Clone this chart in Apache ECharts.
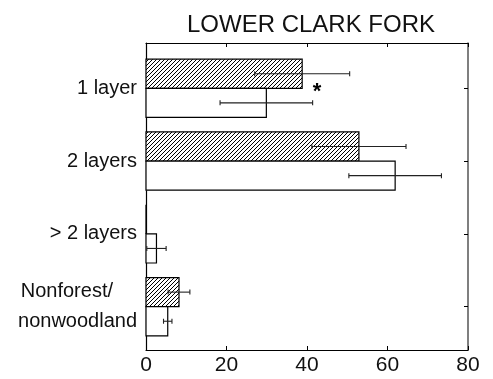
<!DOCTYPE html>
<html>
<head>
<meta charset="utf-8">
<script src="https://cdn.jsdelivr.net/npm/echarts@6/dist/echarts.min.js"></script>
<style>
  html, body { margin: 0; padding: 0; background: #fff; }
  #main { width: 493px; height: 379px; }
</style>
</head>
<body>
<div id="main"></div>
<script>
// categories top to bottom
var categories = ['1 layer', '2 layers', '> 2 layers', 'Nonforest/\nnonwoodland'];
// hatched bars (upper bar of each pair)
var hatchedMean = [38.8, 52.9, 0, 8.2];
var hatchedErr = [11.8, 11.7, 0, 2.7];
// open bars (lower bar of each pair)
var openMean = [29.9, 61.9, 2.6, 5.4];
var openErr = [11.5, 11.5, 2.4, 1.05];
// significance mark
var starX = [42.5];
var starCat = [0];

var BAR_H = 0.4;

// diagonal hatch tile
var tile = document.createElement('canvas');
tile.width = 4; tile.height = 4;
var tctx = tile.getContext('2d');
tctx.fillStyle = '#fff';
tctx.fillRect(0, 0, 4, 4);
tctx.strokeStyle = '#000';
tctx.lineWidth = 1;
tctx.beginPath();
tctx.moveTo(-1, 5); tctx.lineTo(5, -1);
tctx.moveTo(-1, 1); tctx.lineTo(1, -1);
tctx.moveTo(3, 5); tctx.lineTo(5, 3);
tctx.stroke();

function barData(means, errs, off) {
    return means.map(function (v, i) { return [v, i, errs[i], off]; });
}

function renderBar(params, api) {
    var v = api.value(0), c = api.value(1), off = api.value(3);
    var y0 = off < 0 ? c - BAR_H : c;
    var p0 = api.coord([0, y0]);
    var p1 = api.coord([v, y0 + BAR_H]);
    return {
        type: 'rect',
        shape: { x: p0[0], y: Math.min(p0[1], p1[1]), width: p1[0] - p0[0], height: Math.abs(p1[1] - p0[1]) },
        style: { fill: off < 0 ? { image: tile, repeat: 'repeat' } : '#fff', stroke: '#000', lineWidth: 1.2 }
    };
}

function renderErr(params, api) {
    var v = api.value(0), c = api.value(1), e = api.value(2), off = api.value(3);
    if (e <= 0) return null;
    var yc = c + off * BAR_H / 2;
    var lo = api.coord([Math.max(0, v - e), yc]);
    var hi = api.coord([v + e, yc]);
    var cap = 2.5;
    return {
        type: 'group',
        children: [
            { type: 'line', shape: { x1: lo[0], y1: lo[1], x2: hi[0], y2: hi[1] }, style: { stroke: '#222', lineWidth: 1.1 } },
            { type: 'line', shape: { x1: lo[0], y1: lo[1] - cap, x2: lo[0], y2: lo[1] + cap }, style: { stroke: '#222', lineWidth: 1.1 } },
            { type: 'line', shape: { x1: hi[0], y1: hi[1] - cap, x2: hi[0], y2: hi[1] + cap }, style: { stroke: '#222', lineWidth: 1.1 } }
        ]
    };
}

var myChart = echarts.init(document.getElementById('main'));
option = {
    animation: false,
    title: {
        text: 'LOWER CLARK FORK',
        left: 306,
        top: 8,
        textAlign: 'center',
        textStyle: { fontFamily: 'Liberation Sans', fontWeight: 'normal', fontSize: 24, color: '#111' }
    },
    grid: { left: 146, right: 25, top: 43, bottom: 29 },
    xAxis: [{
        type: 'value', min: 0, max: 80, interval: 20, position: 'bottom',
        axisLine: { show: true, onZero: false, lineStyle: { color: '#000', width: 1.2 } },
        axisTick: { show: true, inside: true, length: 4, lineStyle: { color: '#000' } },
        axisLabel: { fontFamily: 'Liberation Sans', fontSize: 21, color: '#111', margin: 5 },
        splitLine: { show: false }
    }, {
        type: 'value', min: 0, max: 80, interval: 20, position: 'top',
        axisLine: { show: true, onZero: false, lineStyle: { color: '#000', width: 1.2 } },
        axisTick: { show: true, inside: true, length: 4, lineStyle: { color: '#000' } },
        axisLabel: { show: false },
        splitLine: { show: false }
    }],
    yAxis: [{
        type: 'value', inverse: true, min: -0.622, max: 3.595, position: 'left',
        axisLine: { show: true, onZero: false, lineStyle: { color: '#000', width: 1.2 } },
        axisTick: { show: false },
        axisLabel: {
            customValues: [0, 1, 2, 3],
            margin: 9,
            fontFamily: 'Liberation Sans', fontSize: 20, color: '#111', lineHeight: 30,
            formatter: function (v) {
                var i = Math.round(v);
                if (i === 3) return '{a|Nonforest/}\n{b|nonwoodland}';
                return categories[i];
            },
            rich: {
                a: { fontFamily: 'Liberation Sans', fontSize: 20, color: '#111', lineHeight: 30, padding: [0, 24, 0, 0] },
                b: { fontFamily: 'Liberation Sans', fontSize: 20, color: '#111', lineHeight: 30 }
            }
        },
        splitLine: { show: false }
    }, {
        type: 'value', inverse: true, min: -0.622, max: 3.595, position: 'right',
        axisLine: { show: true, onZero: false, lineStyle: { color: '#555', width: 1.5 } },
        axisTick: { show: true, inside: true, length: 4, customValues: [0, 1, 2, 3], lineStyle: { color: '#000' } },
        axisLabel: { show: false },
        splitLine: { show: false }
    }],
    series: [{
        type: 'custom', name: 'hatched', renderItem: renderBar, clip: false,
        encode: { x: 0, y: 1 }, data: barData(hatchedMean, hatchedErr, -1)
    }, {
        type: 'custom', name: 'open', renderItem: renderBar, clip: false,
        encode: { x: 0, y: 1 }, data: barData(openMean, openErr, 1)
    }, {
        type: 'custom', name: 'hatchedErr', renderItem: renderErr, z: 5,
        encode: { x: 0, y: 1 }, data: barData(hatchedMean, hatchedErr, -1)
    }, {
        type: 'custom', name: 'openErr', renderItem: renderErr, z: 5,
        encode: { x: 0, y: 1 }, data: barData(openMean, openErr, 1)
    }, {
        type: 'custom', name: 'star', z: 6,
        encode: { x: 0, y: 1 },
        data: starX.map(function (x, i) { return [x, starCat[i]]; }),
        renderItem: function (params, api) {
            var p = api.coord([api.value(0), api.value(1)]);
            return {
                type: 'text',
                style: { text: '*', x: p[0], y: p[1] + 4, align: 'center', verticalAlign: 'middle', fontFamily: 'Liberation Sans', fontWeight: 'bold', fontSize: 22, fill: '#000' }
            };
        }
    }]
};
myChart.setOption(option);
</script>
</body>
</html>
